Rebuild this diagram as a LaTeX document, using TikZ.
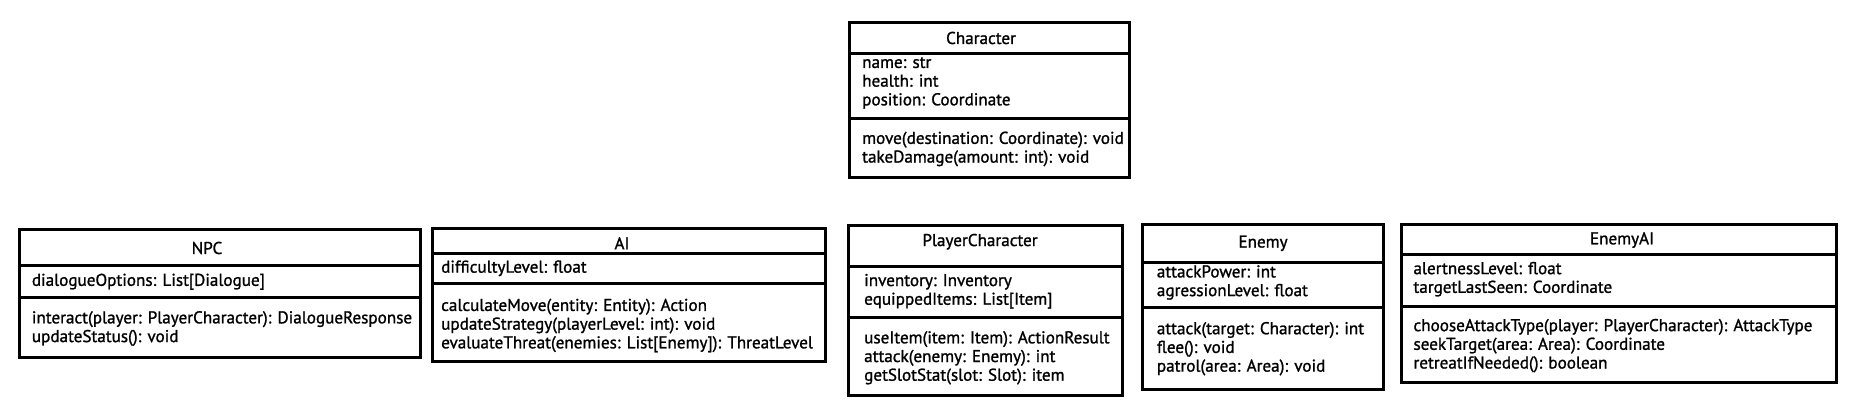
\documentclass[tikz,border=0pt]{standalone}
\usepackage{fontspec}
\setmainfont{PT Sans}[UprightFeatures={FakeBold=1.2}]
\newlength\myrefw
\newlength\myrefwb
\newlength\myrefwc
\AtBeginDocument{%
  \settowidth{\myrefw}{\fontsize{10pt}{12pt}\selectfont chooseAttackType(player: PlayerCharacter): AttackType}%
  \settowidth{\myrefwb}{\fontsize{10pt}{12pt}\selectfont interact(player: PlayerCharacter): DialogueResponse}%
  \settowidth{\myrefwc}{\fontsize{10pt}{12pt}\selectfont move(destination: Coordinate): void}%
  \pgfmathsetmacro{\myfs}{10*1040.7/(\myrefw+\myrefwb+\myrefwc)}%
  \global\let\myfs\myfs}
\begin{document}
\begin{tikzpicture}[x=1pt,y=-1pt]
\tikzset{
  umlbox/.style={draw=black, line width=3pt},
  divider/.style={draw=black, line width=3pt},
  txt/.style={inner sep=0pt, align=left, anchor=west, font=\fontsize{\myfs pt}{18.7pt}\selectfont},
  ttl/.style={inner sep=0pt, anchor=center, font=\fontsize{\myfs pt}{18.7pt}\selectfont},
}
\fill[white] (0,0) rectangle (1860,410);
\useasboundingbox (0,0) rectangle (1860,410);

% Character
\draw[umlbox] (849,22) rectangle (1129,177);
\draw[divider] (849,53) -- (1129,53);
\draw[divider] (849,118) -- (1129,118);
\node[ttl] (charT) at (981,38) {Character};
\node[txt] (charA) at (862,83) {name: str\\health: int\\position: Coordinate};
\node[txt] (charM) at (862,149) {move(destination: Coordinate): void\\takeDamage(amount: int): void};

% NPC
\draw[umlbox] (19,229) rectangle (420,357);
\draw[divider] (19,265) -- (420,265);
\draw[divider] (19,297) -- (420,297);
\node[ttl] (npcT) at (207,248) {NPC};
\node[txt] (npcA) at (31.7,281.7) {dialogueOptions: List[Dialogue]};
\node[txt] (npcM) at (31.7,328.5) {interact(player: PlayerCharacter): DialogueResponse\\updateStatus(): void};

% AI
\draw[umlbox] (432,228) rectangle (825,361);
\draw[divider] (432,253) -- (825,253);
\draw[divider] (432,283) -- (825,283);
\node[ttl] (aiT) at (622,243.3) {AI};
\node[txt] (aiA) at (441,268.3) {difficultyLevel: float};
\node[txt] (aiM) at (441,325.5) {calculateMove(entity: Entity): Action\\updateStrategy(playerLevel: int): void\\evaluateThreat(enemies: List[Enemy]): ThreatLevel};

% PlayerCharacter
\draw[umlbox] (848,225) rectangle (1122,395);
\draw[divider] (848,266) -- (1122,266);
\draw[divider] (848,317) -- (1122,317);
\node[ttl] (pcT) at (980,241.7) {PlayerCharacter};
\node[txt] (pcA) at (864,291.3) {inventory: Inventory\\equippedItems: List[Item]};
\node[txt] (pcM) at (864,357.8) {useItem(item: Item): ActionResult\\attack(enemy: Enemy): int\\getSlotStat(slot: Slot): item};

% Enemy
\draw[umlbox] (1142,224) rectangle (1383,389);
\draw[divider] (1142,262) -- (1383,262);
\draw[divider] (1142,307) -- (1383,307);
\node[ttl] (enT) at (1263,243.3) {Enemy};
\node[txt] (enA) at (1156.7,282.5) {attackPower: int\\agressionLevel: float};
\node[txt] (enM) at (1156.7,348.7) {attack(target: Character): int\\flee(): void\\patrol(area: Area): void};

% EnemyAI
\draw[umlbox] (1401,224) rectangle (1836,382);
\draw[divider] (1401,254) -- (1836,254);
\draw[divider] (1401,306) -- (1836,306);
\node[ttl] (eaiT) at (1622,240) {EnemyAI};
\node[txt] (eaiA) at (1413.3,279.2) {alertnessLevel: float\\targetLastSeen: Coordinate};
\node[txt] (eaiM) at (1413.3,345.6) {chooseAttackType(player: PlayerCharacter): AttackType\\seekTarget(area: Area): Coordinate\\retreatIfNeeded(): boolean};
\end{tikzpicture}
\end{document}
